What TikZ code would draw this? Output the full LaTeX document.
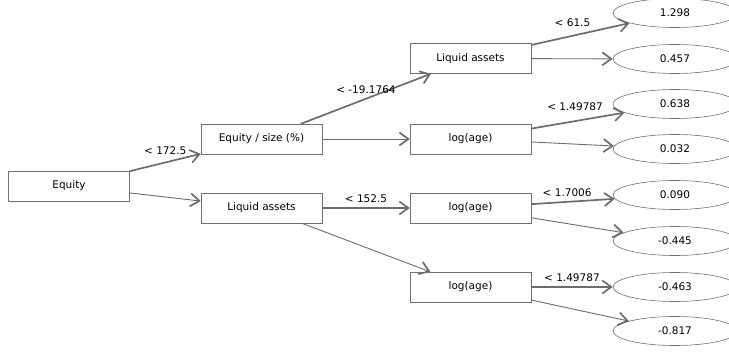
\documentclass[tikz,border=0pt]{standalone}
\usepackage{fontspec}
\setmainfont{DejaVu Sans}
\usetikzlibrary{shapes.geometric}
\usetikzlibrary{arrows.meta}
\definecolor{boxgray}{RGB}{112,112,112}
\definecolor{edgegray}{RGB}{108,108,108}
\tikzset{
    every node/.style={
        font=\fontsize{10.5}{12}\selectfont},
    split/.style={
        draw=boxgray,
        rectangle,
        minimum width=121pt,
        minimum height=30pt},
    leaf/.style={
        draw=boxgray,
        line width=0.6pt,
        ellipse,
        minimum width=124pt,
        minimum height=29pt},
    every edge/.style={
        draw=edgegray,
        -{Straight Barb[length=9pt,width=13pt,line width=1.7pt]},
        line width=0.9pt},
    yes/.style={line width=1.7pt},
    cut/.style={above=1pt}}

\begin{document}
\begin{tikzpicture}[x=1pt,y=-1pt]
        \useasboundingbox (0,0) rectangle (729,356);

        \node[split] (root) at (69,186) {Equity};
        \node[split] (ratio) at (261.5,139) {Equity / size (\%)};
        \node[split] (liqa) at (261.5,208) {Liquid assets};

        \node[split] (liqb) at (470.5,58.5) {Liquid assets};
        \node[split] (agea) at (470.5,139) {log(age)};
        \node[split] (ageb) at (470.5,208) {log(age)};
        \node[split] (agec) at (470.5,287) {log(age)};

        \node[leaf] (v1) at (675,13) {1.298};
        \node[leaf] (v2) at (675,59) {0.457};
        \node[leaf] (v3) at (675,104) {0.638};
        \node[leaf] (v4) at (675,149) {0.032};
        \node[leaf] (v5) at (675,195) {0.090};
        \node[leaf] (v6) at (675,241) {-0.445};
        \node[leaf] (v7) at (675,287) {-0.463};
        \node[leaf] (v8) at (675,331) {-0.817};

        \draw (root) edge[yes] node[cut,pos=0.5,above=3pt] {< 172.5} (ratio);
        \draw (root) edge[] (liqa);
        \draw (ratio) edge[yes] node[cut,pos=0.5,above=0pt] {< -19.1764} (liqb);
        \draw (ratio) edge[] (agea);
        \draw (liqa) edge[yes] node[cut,pos=0.5] {< 152.5} (ageb);
        \draw (liqa) edge[] (agec);

        \draw (liqb) edge[yes] node[cut,pos=0.42,above=4pt] {< 61.5} (v1);
        \draw (liqb) edge[] (v2);
        \draw (agea) edge[yes] node[cut,pos=0.47,above=5pt] {< 1.49787} (v3);
        \draw (agea) edge[] (v4);
        \draw (ageb) edge[yes] node[cut,pos=0.43] {< 1.7006} (v5);
        \draw (ageb) edge[] (v6);
        \draw (agec) edge[yes] node[cut,pos=0.5] {< 1.49787} (v7);
        \draw (agec) edge[] (v8);
    \end{tikzpicture}
\end{document}
